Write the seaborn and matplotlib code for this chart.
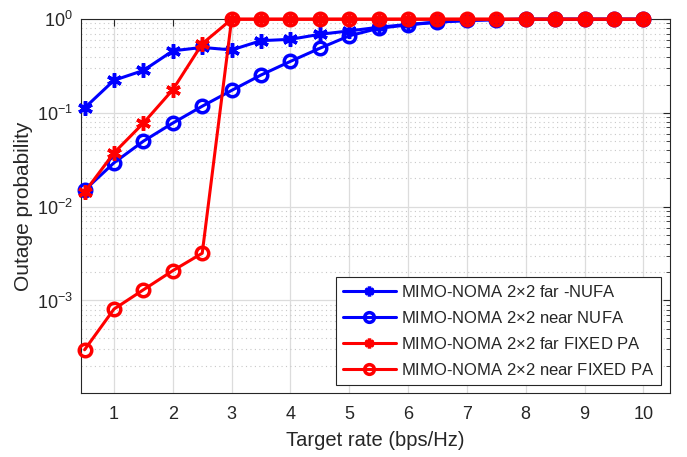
import numpy as np
import pandas as pd
import matplotlib
matplotlib.use("Agg")
import matplotlib.pyplot as plt
import seaborn as sns
from matplotlib.ticker import LogLocator, NullFormatter

rate = [0.5, 1, 1.5, 2, 2.5, 3, 3.5, 4, 4.5, 5, 5.5, 6, 6.5, 7, 7.5, 8, 8.5, 9, 9.5, 10]
far_nufa = [0.113, 0.223, 0.284, 0.46, 0.50, 0.47, 0.59, 0.61, 0.69, 0.75,
            0.82, 0.88, 0.93, 0.97, 0.99, 1, 1, 1, 1, 1]
near_nufa = [0.0150, 0.0294, 0.050, 0.078, 0.118, 0.174, 0.254, 0.355, 0.49, 0.665,
             0.80, 0.87, 0.93, 0.97, 0.99, 1, 1, 1, 1, 1]
far_fixed = [0.0143, 0.0375, 0.078, 0.177, 0.547, 1, 1, 1, 1, 1,
             1, 1, 1, 1, 1, 1, 1, 1, 1, 1]
near_fixed = [2.98e-4, 8.1e-4, 1.30e-3, 2.08e-3, 3.19e-3, 1, 1, 1, 1, 1,
              1, 1, 1, 1, 1, 1, 1, 1, 1, 1]

labels = ["MIMO-NOMA 2$\\times$2 far -NUFA",
          "MIMO-NOMA 2$\\times$2 near NUFA",
          "MIMO-NOMA 2$\\times$2 far FIXED PA",
          "MIMO-NOMA 2$\\times$2 near FIXED PA"]
series = [far_nufa, near_nufa, far_fixed, near_fixed]
colors = ["#0000ff", "#0000ff", "#ff0000", "#ff0000"]
markers = [(6, 2, 0), "o", (6, 2, 0), "o"]

sns.set_style("white")
plt.rcParams['font.family'] = ['Liberation Sans', 'DejaVu Sans']
plt.rcParams['mathtext.fontset'] = 'custom'
plt.rcParams['mathtext.rm'] = 'Liberation Sans'
plt.rcParams['mathtext.default'] = 'regular'

fig = plt.figure(figsize=(6.87, 4.57), dpi=100)
ax = fig.add_axes([0.118, 0.140, 0.857, 0.818])

for lab, vals, c, m in zip(labels, series, colors, markers):
    df = pd.DataFrame({"rate": rate, "p": vals})
    sns.lineplot(data=df, x="rate", y="p", ax=ax, color=c, linewidth=2.2,
                 marker=m, markersize=9 if m == "o" else 10.5,
                 markerfacecolor="none" if m == "o" else c,
                 markeredgecolor=c, markeredgewidth=2.5, label=lab,
                 clip_on=False, zorder=3)

ax.set_yscale("log")
ax.set_xlim(0.44, 10.45)
ax.set_ylim(1.03e-4, 1)
ax.set_xticks(range(1, 11))
ax.set_yticks([1e-3, 1e-2, 1e-1, 1])
ax.set_yticklabels(["$10^{-3}$", "$10^{-2}$", "$10^{-1}$", "$10^{0}$"])
ax.yaxis.set_minor_locator(LogLocator(base=10, subs=np.arange(2, 10), numticks=20))
ax.yaxis.set_minor_formatter(NullFormatter())

ax.grid(True, which="major", color="#dcdcdc", linewidth=0.9, linestyle="-")
ax.grid(True, which="minor", axis="y", color="#c8c8c8", linewidth=0.8, linestyle=(0, (1, 3)))
ax.set_axisbelow(True)

for s in ax.spines.values():
    s.set_color("#262626")
    s.set_linewidth(0.8)
ax.tick_params(which="both", direction="in", top=True, right=True, colors="#262626",
               labelsize=13)
ax.tick_params(which="major", length=5)
ax.tick_params(which="minor", length=3)
ax.tick_params(axis="x", pad=9)
ax.tick_params(axis="y", pad=6)

ax.set_xlabel("Target rate (bps/Hz)", fontsize=14.5, color="#262626", labelpad=6)
ax.set_ylabel("Outage probability", fontsize=15, color="#262626", labelpad=3)

leg = ax.legend(loc="lower right", fontsize=12, frameon=True, fancybox=False,
                edgecolor="#262626", framealpha=1, handlelength=3.2,
                borderaxespad=0.5, labelspacing=0.6, borderpad=0.4, handletextpad=0.3)
leg.get_frame().set_linewidth(0.8)
for h in leg.legend_handles:
    h.set_markersize(7)

fig.savefig("out.png", dpi=100)
